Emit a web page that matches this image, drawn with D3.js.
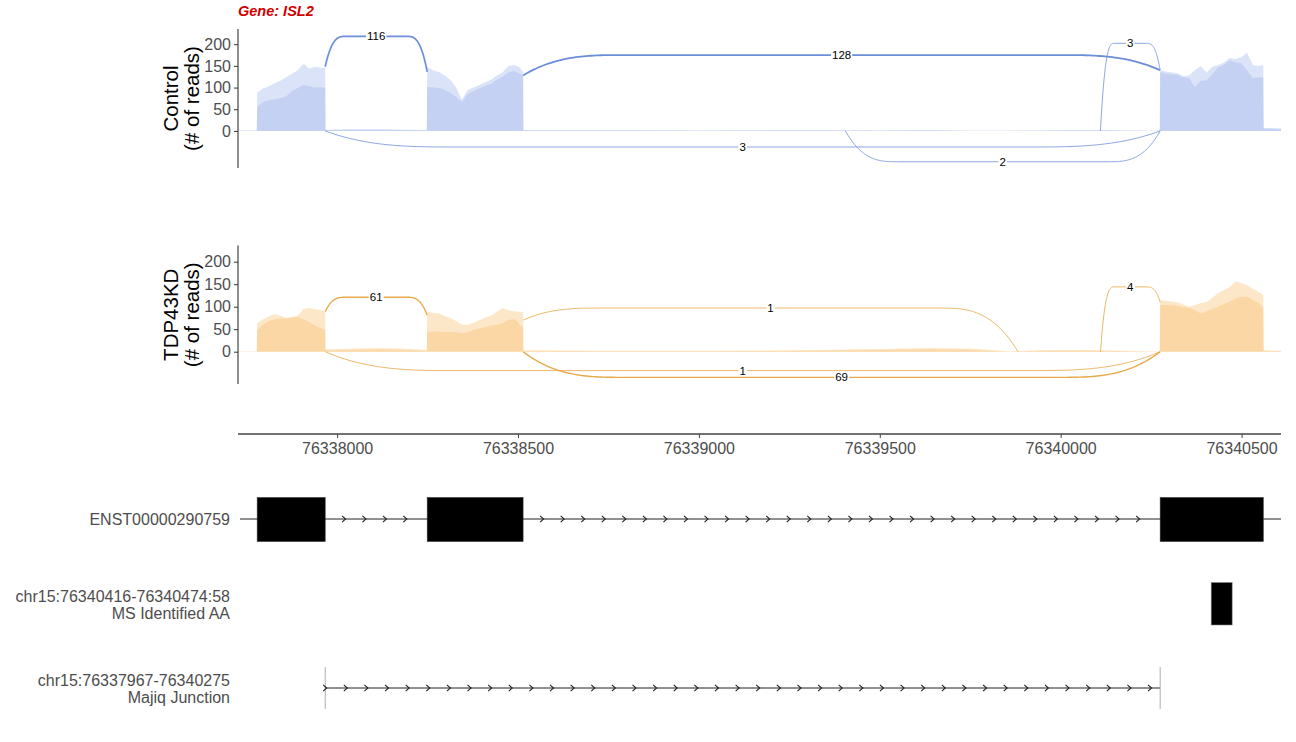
<!DOCTYPE html>
<html>
<head>
<meta charset="utf-8">
<script src="https://cdn.jsdelivr.net/npm/d3@7"></script>
<style>
  html, body { margin: 0; padding: 0; background: #fff; }
  text { font-family: "Liberation Sans", Arial, sans-serif; }
</style>
</head>
<body>
<svg id="chart" width="1296" height="742"></svg>
<script>
// ---------------- DATA ----------------
const geneName = "Gene: ISL2";
const conditions = ["Control", "TDP43KD"];

// genomic positions of coverage samples (shared by all series)
const covPositions = [
  76337726, 76337778,
  76337779, 76337795, 76337811, 76337827, 76337843, 76337859, 76337875, 76337891, 76337907, 76337923, 76337939, 76337955, 76337967,
  76337968, 76338040, 76338110, 76338180, 76338248,
  76338249, 76338265, 76338281, 76338297, 76338313, 76338329, 76338345, 76338361, 76338377, 76338393, 76338409, 76338425, 76338441, 76338457, 76338473, 76338489, 76338505, 76338514,
  76338515, 76338533, 76338727, 76339003, 76339280, 76339501, 76339639, 76339750, 76339860, 76339943, 76340054, 76340109, 76340247, 76340274,
  76340275, 76340291, 76340307, 76340323, 76340339, 76340355, 76340371, 76340387, 76340403, 76340419, 76340435, 76340451, 76340467, 76340483, 76340499, 76340515, 76340531, 76340547, 76340560,
  76340561, 76340609
];

const ctrlRep1 = [
  1, 1,
  88, 98, 103, 110, 116, 124, 132, 140, 155, 144, 148, 146, 145,
  3, 4, 4, 3, 2,
  148, 140, 136, 128, 118, 100, 72, 95, 100, 106, 112, 118, 128, 135, 150, 152, 146, 136,
  2, 2, 2, 1, 2, 1, 2, 1, 1, 1, 2, 2, 1, 1,
  140, 137, 135, 133, 126, 128, 140, 150, 135, 148, 152, 158, 168, 166, 170, 180, 152, 150, 152,
  7, 6
];
const ctrlRep2 = [
  1, 1,
  55, 66, 71, 73, 76, 80, 92, 99, 106, 103, 100, 101, 100,
  2, 3, 3, 2, 1,
  102, 100, 99, 95, 88, 78, 67, 85, 92, 98, 104, 108, 118, 125, 135, 138, 132, 128,
  1, 1, 1, 1, 1, 1, 1, 0, 0, 1, 1, 1, 0, 0,
  136, 132, 130, 129, 124, 122, 101, 115, 117, 130, 147, 152, 163, 158, 156, 140, 122, 124, 124,
  5, 4
];
const kdRep1 = [
  1, 1,
  63, 72, 78, 84, 80, 75, 77, 80, 95, 97, 95, 92, 89,
  5, 7, 8, 7, 4,
  89, 86, 85, 80, 75, 68, 60, 60, 64, 70, 76, 80, 88, 97, 92, 90, 89, 88,
  2, 3, 2, 2, 3, 6, 8, 7, 1, 3, 4, 3, 1, 1,
  115, 113, 111, 110, 105, 100, 104, 108, 110, 120, 130, 137, 143, 156, 152, 148, 140, 133, 126,
  3, 2
];
const kdRep2 = [
  0, 0,
  48, 60, 68, 72, 73, 74, 76, 77, 72, 66, 58, 52, 48,
  3, 4, 5, 4, 2,
  44, 45, 45, 44, 44, 43, 41, 44, 48, 52, 55, 58, 60, 63, 70, 74, 60, 55,
  1, 2, 1, 1, 2, 4, 5, 4, 0, 2, 2, 2, 0, 0,
  104, 104, 103, 102, 99, 97, 92, 85, 90, 95, 100, 106, 111, 118, 122, 122, 115, 108, 97,
  2, 1
];

// junctions: start, end, read count, anchor heights at each end, apex height (reads)
const ctrlJunctions = [
  { start: 76337967, end: 76338249, count: 116, a0: 148, a1: 136, apex: 218 },
  { start: 76338514, end: 76340275, count: 128, a0: 128, a1: 140, apex: 175 },
  { start: 76340110, end: 76340275, count: 3,   a0: 0,   a1: 140, apex: 202 },
  { start: 76337967, end: 76340275, count: 3,   a0: 0,   a1: 0,   apex: -37 },
  { start: 76339405, end: 76340275, count: 2,   a0: 0,   a1: 0,   apex: -71 }
];
const kdJunctions = [
  { start: 76337967, end: 76338249, count: 61, a0: 89, a1: 81,  apex: 121 },
  { start: 76338514, end: 76339882, count: 1,  a0: 70, a1: 0,   apex: 97 },
  { start: 76340110, end: 76340275, count: 4,  a0: 0,  a1: 110, apex: 144 },
  { start: 76337967, end: 76340275, count: 1,  a0: 0,  a1: 0,   apex: -42 },
  { start: 76338514, end: 76340275, count: 69, a0: 0,  a1: 0,   apex: -57 }
];

const transcriptName = "ENST00000290759";
const exonStarts = [76337779, 76338249, 76340275];
const exonEnds   = [76337967, 76338514, 76340560];
const msLabel = ["chr15:76340416-76340474:58", "MS Identified AA"];
const msStart = 76340416, msEnd = 76340474;
const majiqLabel = ["chr15:76337967-76340275", "Majiq Junction"];
const majiqStart = 76337967, majiqEnd = 76340275;

const xTicks = [76338000, 76338500, 76339000, 76339500, 76340000, 76340500];
const yTicks = [0, 50, 100, 150, 200];

// ---------------- LAYOUT ----------------
const svg = d3.select("#chart");
svg.append("rect").attr("width", 1296).attr("height", 742).attr("fill", "#fff");

const x = d3.scaleLinear().domain([76337726, 76340609]).range([238, 1281]);

const panels = [
  { name: conditions[0], reps: [ctrlRep1, ctrlRep2], junctions: ctrlJunctions,
    y: d3.scaleLinear().domain([-85.4, 235]).range([168, 29]),
    fill: "#9bb2eb", arc: "#6b8ed8" },
  { name: conditions[1], reps: [kdRep1, kdRep2], junctions: kdJunctions,
    y: d3.scaleLinear().domain([-71.8, 236]).range([384, 245.5]),
    fill: "#f9bd6a", arc: "#e6a23c" }
];

// title
svg.append("text").attr("x", 238).attr("y", 16)
  .attr("font-size", 14.5).attr("font-weight", "bold").attr("font-style", "italic")
  .attr("fill", "#d00000").text(geneName);

const widthScale = d3.scaleLinear().domain([1, 128]).range([0.9, 1.8]);
const opacityScale = d3.scaleLinear().domain([1, 128]).range([0.85, 1]).clamp(true);

function arcPath(j, y) {
  const x1 = x(j.start), x2 = x(j.end);
  const ya = y(j.apex), y1 = y(j.a0), y2 = y(j.a1);
  const c = Math.min(0.15 * (x2 - x1) + 5, (x2 - x1) / 2);
  const pts = [];
  const N = 40;
  for (let i = 0; i <= N; i++) {
    const d = c * i / N;
    pts.push([x1 + d, ya + (y1 - ya) * Math.pow(1 - d / c, 3)]);
  }
  for (let i = N; i >= 0; i--) {
    const d = c * i / N;
    pts.push([x2 - d, ya + (y2 - ya) * Math.pow(1 - d / c, 3)]);
  }
  return d3.line()(pts);
}

panels.forEach(pn => {
  const g = svg.append("g");
  const y = pn.y;
  // coverage areas
  const area = d3.area()
    .x((d, i) => x(covPositions[i]))
    .y0(y(0))
    .y1(d => y(d));
  pn.reps.forEach(rep => {
    g.append("path").datum(rep).attr("d", area)
      .attr("fill", pn.fill).attr("fill-opacity", 0.36).attr("stroke", "none");
  });
  // junction arcs
  pn.junctions.forEach(j => {
    g.append("path").attr("d", arcPath(j, y))
      .attr("fill", "none").attr("stroke", pn.arc)
      .attr("stroke-width", widthScale(j.count))
      .attr("stroke-opacity", opacityScale(j.count));
  });
  // labels
  pn.junctions.forEach(j => {
    const lx = (x(j.start) + x(j.end)) / 2, ly = y(j.apex);
    const lg = g.append("g");
    const t = lg.append("text").attr("x", lx).attr("y", ly)
      .attr("text-anchor", "middle").attr("dominant-baseline", "central")
      .attr("font-size", 11.5).attr("fill", "#000").text(j.count);
    const bb = t.node().getBBox();
    lg.insert("rect", "text").attr("x", bb.x - 1).attr("y", bb.y + 1)
      .attr("width", bb.width + 2).attr("height", bb.height - 2).attr("fill", "#fff");
  });
  // y axis
  const yAxis = d3.axisLeft(y).tickValues(yTicks).tickSize(4).tickPadding(3);
  const ag = svg.append("g").attr("transform", "translate(238,0)").call(yAxis);
  ag.select(".domain").attr("stroke", "#333").attr("stroke-width", 1.1)
    .attr("d", `M0,${y.range()[1]}V${y.range()[0]}`);
  ag.selectAll(".tick line").attr("stroke", "#333");
  ag.selectAll(".tick text").attr("font-size", 16).attr("fill", "#4d4d4d")
    .attr("font-family", "Liberation Sans, Arial, sans-serif");
  // y title
  const cy = (y.range()[0] + y.range()[1]) / 2;
  const tt = svg.append("text").attr("transform", `translate(180,${cy}) rotate(-90)`)
    .attr("text-anchor", "middle").attr("font-size", 20.5).attr("fill", "#000");
  tt.append("tspan").attr("x", 0).attr("dy", "-0.1em").text(pn.name);
  tt.append("tspan").attr("x", 0).attr("dy", "1.05em").text("(# of reads)");
});

// x axis
const xAxis = d3.axisBottom(x).tickValues(xTicks).tickFormat(d3.format("d")).tickSize(4).tickPadding(5);
const xg = svg.append("g").attr("transform", "translate(0,434)").call(xAxis);
xg.select(".domain").attr("stroke", "#444").attr("stroke-width", 1.3)
  .attr("d", `M${x.range()[0]},0H${x.range()[1]}`);
xg.selectAll(".tick line").attr("stroke", "#444");
xg.selectAll(".tick text").attr("font-size", 16).attr("fill", "#4d4d4d")
  .attr("font-family", "Liberation Sans, Arial, sans-serif");

// ---------------- TRACKS ----------------
const trackLabelX = 230;
function trackLabel(lines, cy) {
  const t = svg.append("text").attr("text-anchor", "end").attr("font-size", 16).attr("fill", "#4d4d4d");
  if (lines.length === 1) {
    t.attr("x", trackLabelX).attr("y", cy).attr("dominant-baseline", "central").text(lines[0]);
  } else {
    lines.forEach((l, i) => {
      t.append("tspan").attr("x", trackLabelX).attr("y", cy + (i - 0.5) * 17)
        .attr("dominant-baseline", "central").text(l);
    });
  }
}
function chevron(g, px, py) {
  g.append("path").attr("d", `M${px - 3.5},${py - 3.2}L${px},${py}L${px - 3.5},${py + 3.2}`)
    .attr("fill", "none").attr("stroke", "#222").attr("stroke-width", 1.1);
}

// transcript
const ty = 519;
trackLabel([transcriptName], ty);
const tg = svg.append("g");
tg.append("line").attr("x1", x.range()[0] + 2).attr("x2", x.range()[1]).attr("y1", ty).attr("y2", ty)
  .attr("stroke", "#222").attr("stroke-width", 1);
for (let i = 0; i < exonStarts.length - 1; i++) {
  const s = exonEnds[i], e = exonStarts[i + 1];
  const n = Math.round((e - s) / 57) - 1;
  for (let k = 1; k <= n; k++) {
    chevron(tg, x(s + (e - s) * k / (n + 1)), ty);
  }
}
exonStarts.forEach((s, i) => {
  tg.append("rect").attr("x", x(s)).attr("y", 497.5)
    .attr("width", x(exonEnds[i]) - x(s)).attr("height", 44)
    .attr("fill", "#000").attr("stroke", "#333").attr("stroke-width", 0.6);
});

// MS identified AA
trackLabel(msLabel, 605);
svg.append("rect").attr("x", x(msStart)).attr("y", 582.5)
  .attr("width", x(msEnd) - x(msStart)).attr("height", 42.5)
  .attr("fill", "#000").attr("stroke", "#888").attr("stroke-width", 0.6);

// Majiq junction
const my = 688;
trackLabel(majiqLabel, my + 1);
const mg = svg.append("g");
mg.append("line").attr("x1", x(majiqStart)).attr("x2", x(majiqEnd)).attr("y1", my).attr("y2", my)
  .attr("stroke", "#222").attr("stroke-width", 1);
[majiqStart, majiqEnd].forEach(p => {
  mg.append("line").attr("x1", x(p)).attr("x2", x(p)).attr("y1", 667).attr("y2", 709)
    .attr("stroke", "#999").attr("stroke-width", 0.8);
});
for (let p = majiqStart; p < majiqEnd - 20; p += 57) {
  chevron(mg, x(p) + 1.5, my);
}
</script>
</body>
</html>
